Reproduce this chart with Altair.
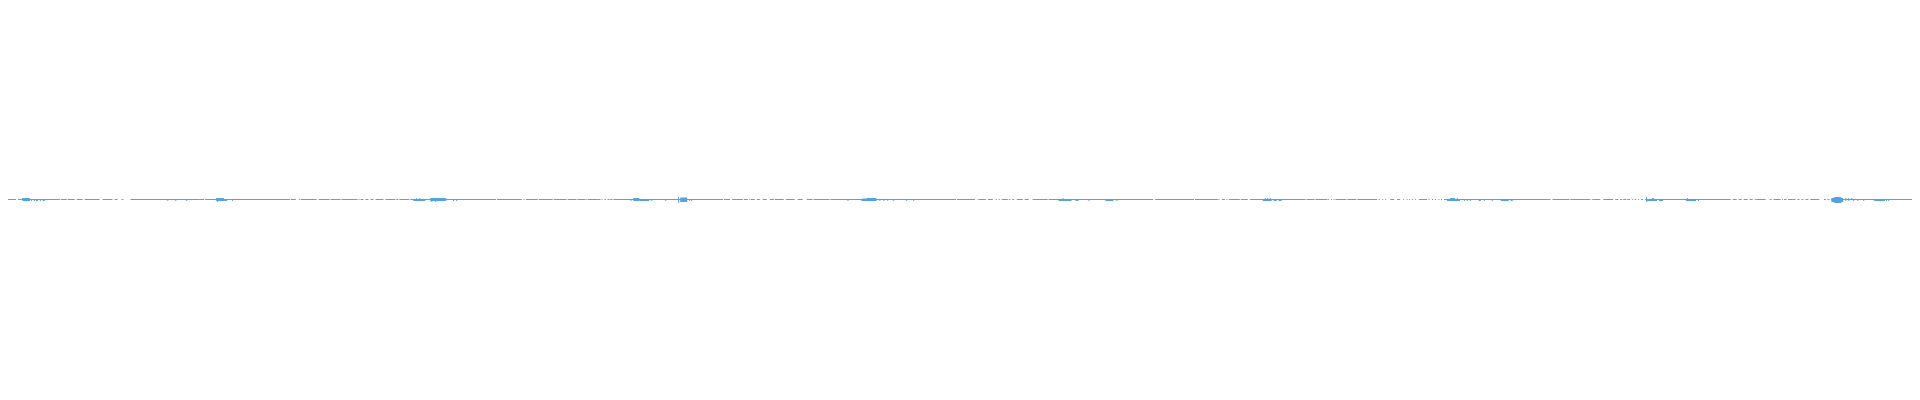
import altair as alt
import pandas as pd

# Waveform baseline segments (time start, time end) where signal is present
base_segments = [
    (0, 16), (18, 60), (61, 67), (68, 75), (77, 83), (85, 100), (103, 113), (115, 118), (122, 124), (131, 200),
    (200, 205), (206, 291), (292, 297), (300, 301), (302, 318), (320, 331), (332, 342), (343, 359), (360, 361),
    (362, 365), (367, 370), (372, 375), (377, 385), (387, 397), (398, 400),
    (401, 411), (412, 498), (499, 524), (525.5, 526.5), (528, 540), (541, 555), (556, 569), (570, 579), (580, 588),
    (588.7, 589.5), (590, 600),
    (600, 603), (604, 605), (607, 608.5), (610, 612), (612.7, 615), (616, 726), (727, 733), (735, 746), (747, 751),
    (752.5, 753.5), (754, 758), (760, 763), (766, 770), (773, 777), (778, 787), (789, 798),
    (801, 806), (810, 816), (817, 833), (834, 960), (961, 979), (981.5, 982.5), (983, 990), (992, 997),
    (1000, 1001), (1003, 1004), (1006, 1012), (1013, 1014.5), (1016.5, 1018.5), (1021, 1027), (1029, 1033),
    (1037, 1052), (1053, 1158), (1160, 1199),
    (1200, 1223), (1223.5, 1224.5), (1227, 1230), (1231.5, 1232.5), (1234, 1245), (1246, 1253), (1255, 1311),
    (1312, 1320), (1321, 1333), (1333.5, 1334.5), (1336.5, 1337.5), (1339, 1340), (1341, 1352), (1353, 1362),
    (1363, 1383), (1384.5, 1385.5), (1388, 1389), (1391, 1392), (1396, 1400),
    (1403, 1406), (1409, 1410), (1412.5, 1413.5), (1415, 1416), (1418, 1419), (1421, 1422), (1425, 1433),
    (1434.5, 1435.5), (1438, 1439), (1441, 1442), (1444.5, 1445.5), (1447, 1448), (1450, 1557), (1559, 1576),
    (1577, 1597), (1598.5, 1599.5),
    (1600, 1607), (1610, 1620), (1622, 1625), (1627, 1629), (1630, 1633), (1634, 1637), (1639, 1640),
    (1641.5, 1643), (1645, 1646), (1648, 1650), (1652, 1738), (1740, 1744), (1746, 1749), (1751, 1755),
    (1757, 1760), (1762, 1763), (1763.5, 1773), (1777, 1779), (1781, 1788), (1789.5, 1790.5), (1791.5, 1794),
    (1795.5, 1800),
    (1800, 1803), (1805, 1807), (1809, 1811), (1813, 1816), (1818, 1827), (1831.5, 1833.5), (1835, 1837),
    (1839, 1920),
]
base_start = [s for s, e in base_segments]
base_end = [e for s, e in base_segments]

# Waveform bursts: (time start, time end, min amplitude, max amplitude)
bursts = [
    (22, 23, -0.5, 1.5), (22.5, 30, -1.5, 1.5), (31, 32, -1.5, 0.5), (34, 35, -1.5, 0.5), (36, 38, -1.5, 0.5),
    (40, 41, -1.5, 0.5), (43, 45, -1.5, 0.5), (168, 169, -1.5, 0.5), (176, 177, -1.5, 0.5), (187, 188, -1.5, 0.5),
    (217, 225, -1.5, 1.5), (218, 219, -2.5, 1.5), (225, 228, -1.5, 0.5), (233, 234, -1.5, 0.5),
    (415, 427, -1.5, 0.5), (418, 419, -0.5, 1.5), (421, 422, -0.5, 1.5), (432, 448, -1.5, 1.5),
    (433, 434, -2.5, 0.5), (437, 438, -2.5, 0.5), (443, 444, -0.5, 1.5), (455, 456, -1.5, 0.5),
    (458, 459, -1.5, 0.5),
    (633, 634, -1.5, 0.5), (636, 642, -1.5, 1.5), (642, 652, -1.5, 0.5), (654, 655, -1.5, 0.5),
    (668, 669, -1.5, 0.5), (681, 682, -3.5, 2.5), (683, 690, -2.5, 2.0), (692, 693, -1.5, 0.5),
    (694, 695, -1.5, 0.5),
    (851, 852, -1.5, 0.5), (865, 880, -1.5, 0.5), (866, 867, -0.5, 1.5), (868, 869, -0.5, 1.5),
    (870, 880, -1.5, 1.5), (883, 884, -1.5, 0.5), (887, 888, -1.5, 0.5), (891, 892, -1.5, 0.5),
    (897, 898, -1.5, 0.5), (910, 911, -1.5, 0.5), (917, 918, -1.5, 0.5),
    (1063, 1076, -1.5, 0.5), (1067, 1068, -0.5, 1.5), (1080, 1083, -1.5, 0.5), (1093, 1094, -1.5, 0.5),
    (1110, 1118, -1.5, 0.5), (1121, 1122, -1.5, 0.5),
    (1268, 1277, -1.5, 0.5), (1270, 1271, -0.5, 1.5), (1272.5, 1273.5, -0.5, 1.5), (1275, 1276, -0.5, 1.5),
    (1279, 1282, -1.5, 0.5), (1284, 1287, -1.5, 0.5),
    (1453, 1466, -1.5, 0.5), (1456, 1461, -1.5, 1.5), (1463, 1464, -0.5, 1.5), (1470, 1471, -1.5, 0.5),
    (1473, 1474, -1.5, 0.5), (1476, 1477, -1.5, 0.5), (1485, 1487, -1.5, 0.5), (1490, 1491, -1.5, 0.5),
    (1498, 1499, -1.5, 0.5), (1507, 1515, -1.5, 0.5), (1517, 1519, -1.5, 0.5),
    (1653, 1654, -2.5, 2.5), (1653, 1664, -1.5, 0.5), (1659, 1661, -0.5, 1.5), (1666, 1670, -1.5, 0.5),
    (1694, 1695, -0.5, 1.5), (1693, 1703, -1.5, 0.5), (1705, 1706, -1.5, 0.5),
    (1839, 1851, -2.5, 1.5), (1842, 1849, -3.5, 2.5), (1853, 1854, -1.5, 1.5), (1856, 1857, -1.5, 1.5),
    (1859, 1860, -0.5, 1.5), (1861, 1862, -1.5, 0.5), (1865, 1866, -1.5, 0.5), (1871, 1872, -1.5, 0.5),
    (1882, 1893, -1.5, 0.5), (1894, 1895, -1.5, 0.5), (1896, 1897, -1.5, 0.5),
]
burst_start = [b[0] for b in bursts]
burst_end = [b[1] for b in bursts]
burst_lo = [b[2] for b in bursts]
burst_hi = [b[3] for b in bursts]

COLOR = "#52a3df"

base_df = pd.DataFrame({"t0": base_start, "t1": base_end, "amp": [0.0] * len(base_start)})
burst_df = pd.DataFrame({"t0": burst_start, "t1": burst_end, "lo": burst_lo, "hi": burst_hi})

xscale = alt.Scale(domain=[8, 1920], nice=False, zero=False)
yscale = alt.Scale(domain=[-191.5, 191.5], nice=False, zero=False)

base = alt.Chart(base_df).mark_rule(color=COLOR, strokeWidth=1, clip=True).encode(
    x=alt.X("t0:Q", scale=xscale, axis=None),
    x2="t1:Q",
    y=alt.Y("amp:Q", scale=yscale, axis=None),
)

burst = alt.Chart(burst_df).mark_rect(color=COLOR, clip=True).encode(
    x=alt.X("t0:Q", scale=xscale, axis=None),
    x2="t1:Q",
    y=alt.Y("lo:Q", scale=yscale, axis=None),
    y2="hi:Q",
)

chart = alt.layer(base, burst).properties(
    width=1912, height=383, padding=0, autosize=alt.AutoSizeParams(type="none"),
    background="white",
).configure_view(stroke=None)

chart.save("out.html", embed_options={"renderer": "svg", "actions": False})
